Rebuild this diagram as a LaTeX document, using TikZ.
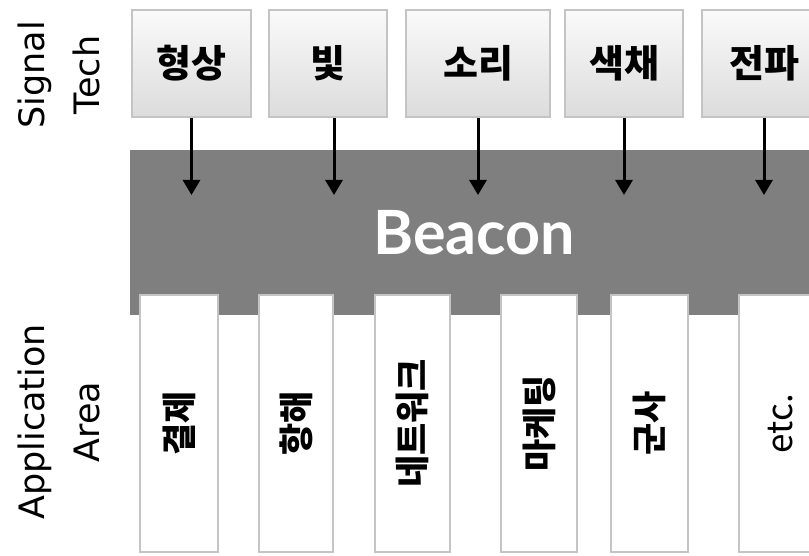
\documentclass[tikz,border=0pt]{standalone}
\usepackage{fontspec}
\setmainfont{DejaVu Sans}
\newfontfamily\krfont{Noto Sans CJK KR}
\newfontfamily\beaconfont{Lato}
\usetikzlibrary{positioning, arrows.meta}

\definecolor{bandgray}{HTML}{7F7F7F}
\definecolor{boxline}{HTML}{C4C4C4}
\definecolor{boxtop}{HTML}{FAFAFA}
\definecolor{boxbottom}{HTML}{DCDCDC}

\begin{document}
\begin{tikzpicture}[x=1pt, y=-1pt, >={Triangle[length=15pt, width=17pt]}, node distance=16pt,
    sig/.style={draw=boxline, line width=2pt, top color=boxtop, bottom color=boxbottom,
      minimum height=107pt, inner sep=0pt, font=\krfont\bfseries\fontsize{38}{42}\selectfont},
    app/.style={draw=boxline, line width=2pt, fill=white, minimum height=257pt, inner sep=0pt},
    apptext/.style={rotate=90, font=\krfont\bfseries\fontsize{35}{40}\selectfont},
    side/.style={rotate=90, align=center, font=\fontsize{35}{55}\selectfont},
    band/.style={fill=bandgray, text=white, inner sep=0pt, font=\beaconfont\bfseries\fontsize{61}{70}\selectfont}]

    \clip (0,0) rectangle (809,556);

    %define the beacon band
    \node[band, minimum width=688pt, minimum height=165pt, anchor=north west] (beacon) at (130,150) {Beacon};

    %define the signal boxes
    \node[sig, minimum width=119pt, anchor=north west] (s1) at (131,9) {형상};
    \node[sig, minimum width=118pt] (s2) [right=of s1] {빛};
    \node[sig, minimum width=144pt] (s3) [right=17pt of s2] {소리};
    \node[sig, minimum width=118pt] (s4) [right=13pt of s3] {색채};
    \node[sig, minimum width=124pt] (s5) [right=17pt of s4] {전파};

    %define the arrow ends
    \coordinate (tips) at (0,195);

    %define the arrows
    \path[->, line width=3pt] (s1.south) edge (s1.south |- tips)
    ([xshift=6pt]s2.south) edge ([xshift=6pt]s2.south |- tips)
    (s3.south) edge (s3.south |- tips)
    (s4.south) edge (s4.south |- tips)
    (s5.south) edge (s5.south |- tips);

    %define the application boxes
    \node[app, minimum width=78pt, anchor=north west, label={[apptext, name=t1]center:결제}] (a1) at (139,294) {};
    \node[app, minimum width=74pt, label={[apptext, name=t2]center:항해}] (a2) [right=39pt of a1] {};
    \node[app, minimum width=75pt, label={[apptext, name=t3]center:네트워크}] (a3) [right=40pt of a2] {};
    \node[app, minimum width=76pt, label={[apptext, name=t4]center:마케팅}] (a4) [right=49pt of a3] {};
    \node[app, minimum width=77pt, label={[apptext, name=t5]center:군사}] (a5) [right=32pt of a4] {};
    \node[app, minimum width=84pt, label={[apptext, font=\krfont\fontsize{35}{40}\selectfont, name=t6]center:etc.}] (a6) [right=49pt of a5] {};

    %define the side labels
    \node[side] (sigtech) at (59,75) {Signal\\Tech};
    \node[side] (apparea) at (59,422) {Application\\Area};
\end{tikzpicture}
\end{document}
